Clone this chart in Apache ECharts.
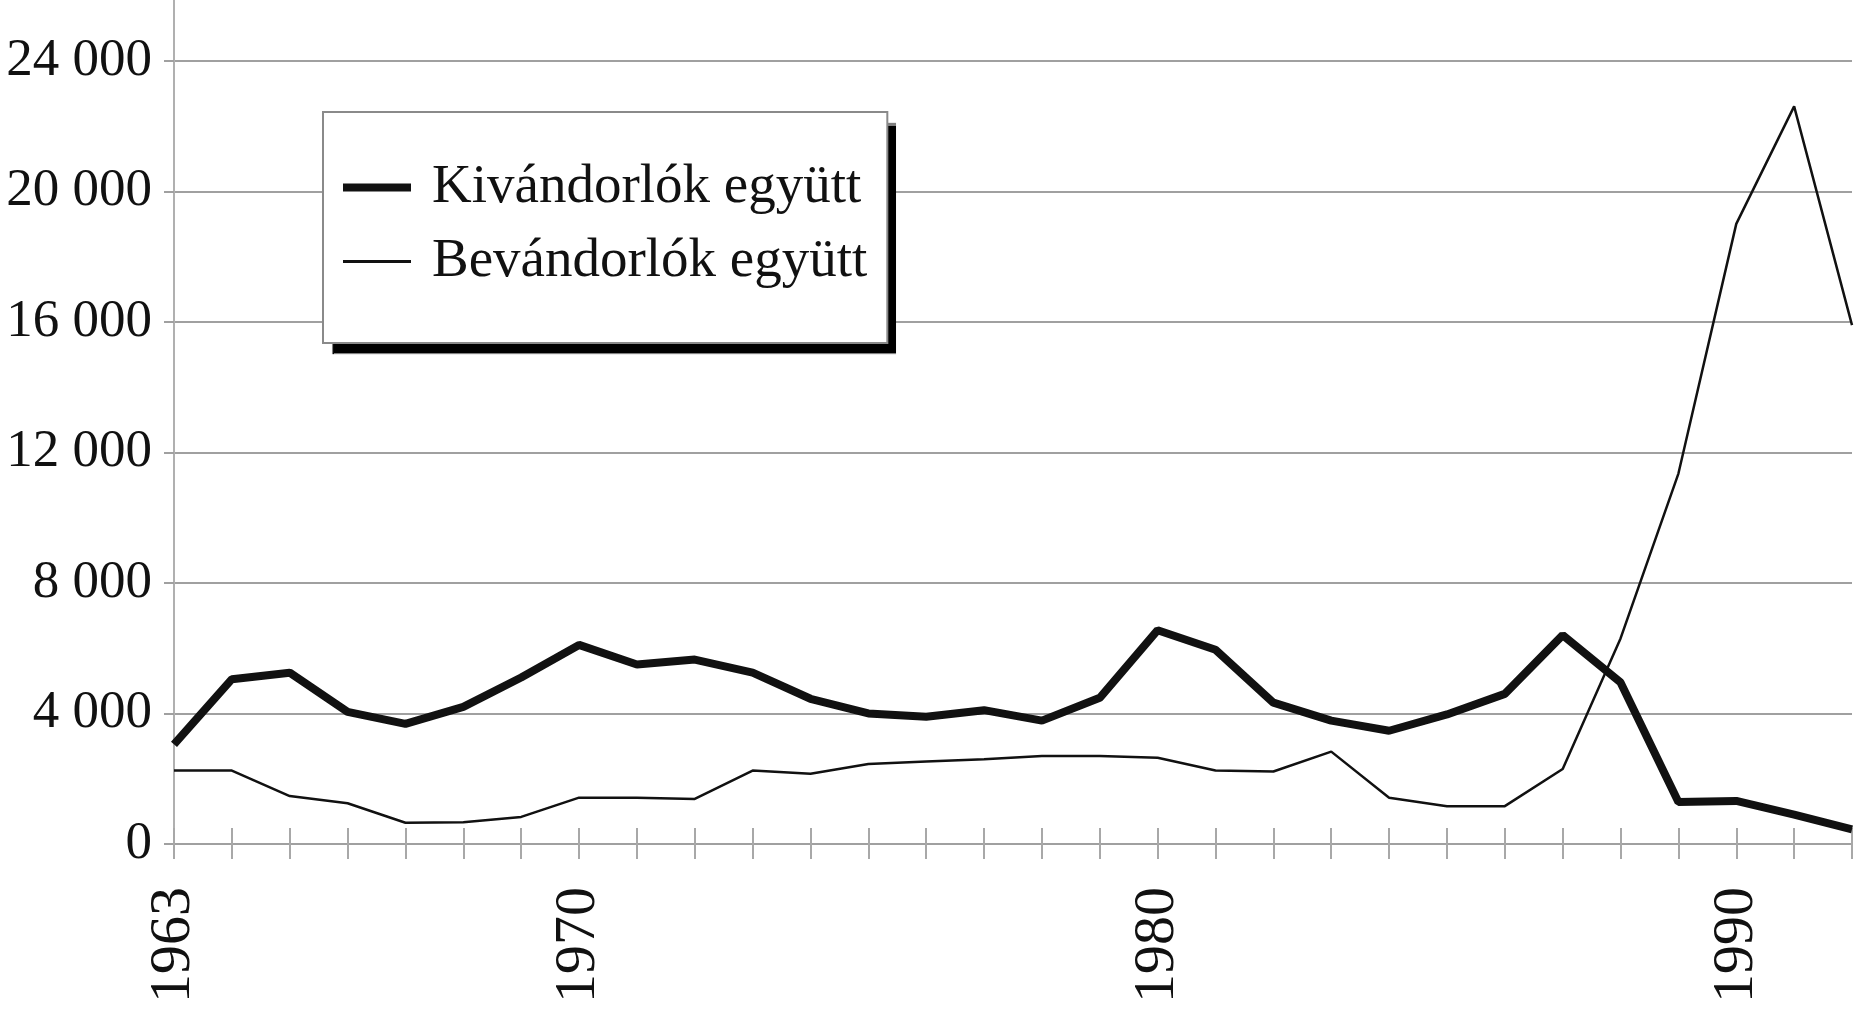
<!DOCTYPE html>
<html>
<head>
<meta charset="utf-8">
<script src="https://cdn.jsdelivr.net/npm/echarts@6/dist/echarts.min.js"></script>
<style>
html,body{margin:0;padding:0;background:#fff;}
#c{width:1864px;height:1024px;}
</style>
</head>
<body>
<div id="c"></div>
<script>
const years = ['1963','1964','1965','1966','1967','1968','1969','1970','1971','1972','1973','1974','1975','1976','1977','1978','1979','1980','1981','1982','1983','1984','1985','1986','1987','1988','1989','1990','1991','1992'];
const kivandorlok = [3050,5050,5250,4050,3680,4200,5100,6100,5500,5650,5250,4450,4000,3900,4100,3780,4480,6550,5950,4330,3780,3470,3970,4600,6400,4950,1290,1320,900,450];
const bevandorlok = [2250,2250,1470,1250,650,670,830,1420,1420,1380,2250,2150,2450,2530,2600,2700,2700,2640,2250,2220,2830,1420,1160,1160,2300,6300,11350,19000,22600,15900];
const shownYearLabels = ['1963','1970','1980','1990'];
const seriesNames = ['Kivándorlók együtt','Bevándorlók együtt'];

const FONT = 'Liberation Serif';
const legendItems = [
  {name: seriesNames[0], icon: 'path://M0,0H68V8H0Z'},
  {name: seriesNames[1], icon: 'path://M0,0H68V3H0Z'}
];
const legendBase = {
  orient: 'vertical',
  left: 323, top: 112,
  data: legendItems,
  itemWidth: 68, itemHeight: 20,
  itemGap: 19,
  padding: [48, 20, 54, 20],
  borderRadius: 0,
  selectedMode: false,
  textStyle: {fontFamily: FONT, fontSize: 55, color: '#111', padding: [0,0,0,16]}
};
const chart = echarts.init(document.getElementById('c'));
chart.setOption({
  backgroundColor: '#fff',
  animation: false,
  grid: {left: 174, right: 12, top: 0, bottom: 180, containLabel: false},
  legend: [
    Object.assign({}, legendBase, {
      z: 9, backgroundColor: '#000', borderWidth: 0,
      shadowColor: '#000', shadowBlur: 1, shadowOffsetX: 9, shadowOffsetY: 11
    }),
    Object.assign({}, legendBase, {
      z: 10, backgroundColor: '#fff', borderColor: '#8a8a8a', borderWidth: 2
    })
  ],
  xAxis: [{
    type: 'category', data: years, boundaryGap: false,
    axisLine: {show: true, lineStyle: {color: '#a0a0a0', width: 2}},
    axisTick: {show: true, interval: 0, length: 15, lineStyle: {color: '#a8a8a8', width: 2}},
    axisLabel: {
      interval: (i, v) => shownYearLabels.includes(v),
      rotate: 90, margin: 43,
      fontFamily: FONT, fontSize: 58, color: '#111'
    },
    splitLine: {show: false}
  },{
    type: 'category', data: years, boundaryGap: false, position: 'bottom',
    axisLine: {show: false},
    axisTick: {show: true, inside: true, interval: 0, length: 16, lineStyle: {color: '#a8a8a8', width: 2}},
    axisLabel: {show: false},
    splitLine: {show: false}
  }],
  yAxis: {
    type: 'value', min: 0, max: 25860, interval: 4000,
    axisLine: {show: true, lineStyle: {color: '#b0b0b0', width: 2}},
    axisTick: {show: true, length: 10, lineStyle: {color: '#a0a0a0', width: 2}},
    axisLabel: {
      showMaxLabel: false, margin: 22,
      fontFamily: FONT, fontSize: 53, color: '#111',
      formatter: v => String(v).replace(/\B(?=(\d{3})+(?!\d))/g, ' ')
    },
    splitLine: {show: true, showMaxLine: false, lineStyle: {color: '#a0a0a0', width: 2}}
  },
  series: [{
    name: seriesNames[0], type: 'line', data: kivandorlok, xAxisIndex: 0,
    symbol: 'none', lineStyle: {color: '#111', width: 8}, itemStyle: {color: '#111'}, z: 3
  },{
    name: seriesNames[1], type: 'line', data: bevandorlok, xAxisIndex: 0,
    symbol: 'none', lineStyle: {color: '#111', width: 2.5}, itemStyle: {color: '#111'}, z: 2
  }]
});
</script>
</body>
</html>
